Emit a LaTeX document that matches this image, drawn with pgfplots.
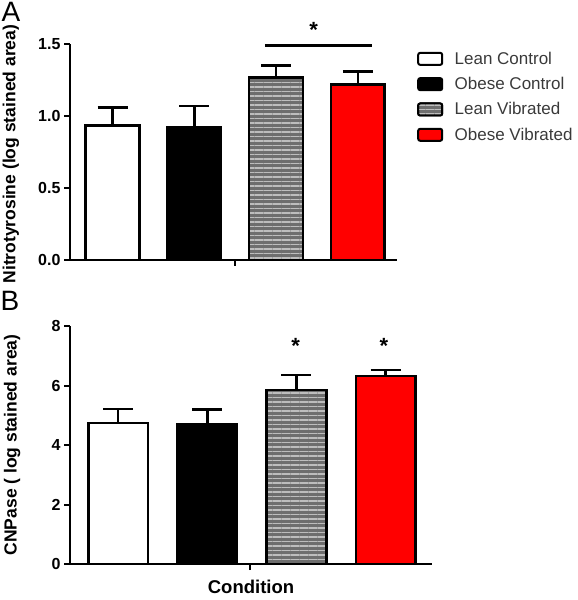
\documentclass[border=0pt]{standalone}
\usepackage{fontspec}
\setmainfont{Liberation Sans}
\usepackage{pgfplots}
\pgfplotsset{compat=1.18}
\usetikzlibrary{patterns.meta}
\definecolor{stripebase}{HTML}{6E6E6E}
\definecolor{stripeline}{HTML}{BDBDBD}
\definecolor{legtext}{HTML}{3A3A3A}

\pgfplotsset{
  panel/.style={
    scale only axis, clip=false,
    axis x line*=bottom, axis y line*=left,
    axis line style={-, line width=2pt, black},
    tick align=outside, major tick length=6pt,
    tick style={line width=2pt, black},
    ymin=0, xmin=0,
    xtick={2.02}, xticklabels={},
    yticklabel style={font=\bfseries\fontsize{16}{16}\selectfont},
    /pgf/number format/assume math mode=true,
    ylabel style={anchor=center,
      font=\bfseries\fontsize{17.5}{19}\selectfont},
  },
  mybar/.style={ybar, bar width=#1, line width=2.5pt, draw=black,
    error bars/y dir=plus, error bars/y explicit,
    error bars/error bar style={line width=2.5pt, black},
    error bars/error mark options={rotate=90, mark size=15pt, line width=2.5pt, black},
    legend image code/.code={\draw[##1, line width=2pt, rounded corners=2pt] (0pt,-6pt) rectangle (24pt,6pt);},
  },
  stripes/.style={fill=stripebase, postaction={pattern={Lines[angle=0, distance=4.5pt, line width=1.6pt]}, pattern color=stripeline}},
}

\begin{document}
\begin{tikzpicture}
\useasboundingbox (0,0) rectangle (578pt,600pt);

% Panel A
\begin{axis}[panel,
  at={(70pt,340pt)}, anchor=south west,
  width=327pt, height=216pt,
  xmax=4.0, ymax=1.5,
  ytick={0,0.5,1,1.5},
  yticklabel style={/pgf/number format/.cd, fixed, fixed zerofill, precision=1},
  ylabel={Nitrotyrosine (log stained area)},
  ylabel style={at={(axis description cs:-0.1804,0.49)}},
  legend style={at={(rel axis cs:1.052,0.985)}, anchor=north west, draw=none, fill=none,
    font=\fontsize{17}{18}\selectfont, text=legtext, row sep=6.5pt, column sep=9pt,
    nodes={inner sep=2.5pt}},
  legend cell align=left,
]
\addplot[mybar=0.66, fill=white] coordinates {(0.52,0.935) +- (0,0.125)};
\addlegendentry{Lean Control}
\addplot[mybar=0.66, fill=black] coordinates {(1.52,0.925) +- (0,0.145)};
\addlegendentry{Obese Control}
\addplot[mybar=0.66, stripes] coordinates {(2.52,1.267) +- (0,0.083)};
\addlegendentry{Lean Vibrated}
\addplot[mybar=0.66, fill=red] coordinates {(3.52,1.22) +- (0,0.09)};
\addlegendentry{Obese Vibrated}
\draw[line width=3pt] (axis cs:2.385,1.49) -- (axis cs:3.69,1.49);
\node[font=\bfseries\fontsize{22}{22}\selectfont] at (axis cs:2.98,1.60) {*};
\end{axis}

% Panel B
\begin{axis}[panel,
  at={(70pt,36pt)}, anchor=south west,
  width=362pt, height=238pt,
  xmax=4.06, ymax=8,
  ytick={0,2,4,6,8},
  ylabel={CNPase ( log stained area)},
  ylabel style={at={(axis description cs:-0.160,0.5)}},
  xlabel={Condition},
  xlabel style={at={(rel axis cs:0.5,0)}, anchor=center, yshift=-23pt,
    font=\bfseries\fontsize{18.5}{20}\selectfont},
]
\addplot[mybar=0.67, fill=white] coordinates {(0.54,4.74) +- (0,0.47)};
\addplot[mybar=0.67, fill=black] coordinates {(1.54,4.71) +- (0,0.49)};
\addplot[mybar=0.67, stripes] coordinates {(2.54,5.85) +- (0,0.50)};
\addplot[mybar=0.67, fill=red] coordinates {(3.54,6.32) +- (0,0.20)};
\node[font=\bfseries\fontsize{22}{22}\selectfont] at (axis cs:2.53,7.33) {*};
\node[font=\bfseries\fontsize{22}{22}\selectfont] at (axis cs:3.52,7.33) {*};
\end{axis}

\node[font=\fontsize{28}{28}\selectfont] at (11pt,588pt) {A};
\node[font=\fontsize{28}{28}\selectfont] at (10pt,299pt) {B};
\end{tikzpicture}
\end{document}
